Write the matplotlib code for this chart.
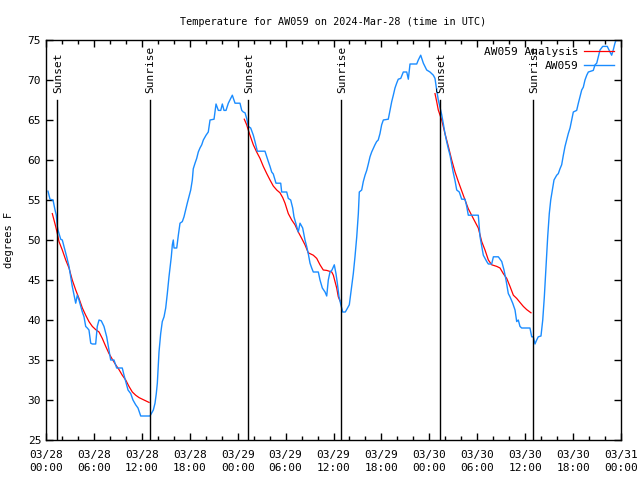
import matplotlib
matplotlib.use("Agg")
import matplotlib.pyplot as plt
from matplotlib.ticker import MultipleLocator

# hours since 2024-03-28 00:00 UTC
obs_hours = [0.25, 0.5, 0.88, 1.13, 1.29, 1.42, 1.5, 1.84, 2.04, 2.25, 2.59, 2.88, 3.09, 3.29, 3.51,
             3.72, 3.92, 4.13, 4.35, 4.55, 4.76, 4.97, 5.17, 5.38, 5.6, 5.8, 6.22, 6.42, 6.64, 6.92,
             7.26, 7.6, 7.89, 8.1, 8.51, 8.85, 9.55, 9.77, 9.98, 10.27, 10.61, 10.89, 11.23, 11.52,
             11.86, 13.02, 13.19, 13.44, 13.65, 13.81, 13.94, 14.06, 14.15, 14.36, 14.56, 14.78,
             14.99, 15.19, 15.4, 15.53, 15.69, 15.82, 15.94, 16.03, 16.37, 16.57, 16.78, 17.07,
             17.28, 17.69, 18.12, 18.32, 18.44, 18.66, 18.87, 19.07, 19.28, 19.5, 19.7, 20.04,
             20.32, 20.54, 21.04, 21.29, 21.58, 21.88, 22.08, 22.29, 22.54, 22.83, 23.13, 23.33,
             23.67, 24.29, 24.51, 24.71, 24.92, 25.13, 25.33, 25.63, 25.96, 26.17, 26.46, 27.42,
             27.64, 27.84, 28.05, 28.26, 28.46, 28.8, 29.39, 29.51, 30.14, 30.34, 30.64, 30.89,
             31.05, 31.39, 31.59, 31.81, 32.14, 32.43, 32.64, 32.84, 33.06, 33.27, 33.47, 34.1,
             34.31, 34.6, 34.94, 35.15, 35.35, 35.56, 35.81, 36.1, 36.31, 36.48, 36.69, 36.9,
             37.15, 37.48, 37.98, 38.19, 38.48, 38.69, 38.91, 39.11, 39.23, 39.53, 39.73, 39.95,
             40.16, 40.36, 40.57, 40.78, 41.19, 41.4, 41.6, 41.82, 42.03, 42.24, 42.86, 43.08,
             43.29, 43.49, 43.7, 43.91, 44.11, 44.42, 44.74, 45.17, 45.37, 45.58, 46.42, 46.62,
             46.92, 47.25, 47.67, 48.08, 48.5, 48.71, 48.92, 49.12, 49.33, 49.54, 49.74, 49.96,
             50.17, 50.38, 50.59, 50.8, 51.0, 51.22, 51.43, 51.75, 52.05, 52.47, 52.68, 52.88,
             54.13, 54.35, 54.56, 54.76, 55.19, 55.39, 55.81, 56.02, 56.64, 57.07, 57.35, 57.6,
             57.89, 58.1, 58.44, 58.73, 58.94, 59.14, 59.35, 59.56, 60.6, 60.82, 61.02, 61.23,
             61.44, 61.64, 61.98, 62.2, 62.4, 62.61, 62.82, 63.02, 63.2, 63.4, 63.61, 63.95,
             64.15, 64.36, 64.57, 64.78, 64.99, 65.2, 65.4, 65.62, 65.83, 66.03, 66.45, 66.66,
             66.87, 67.08, 67.28, 67.49, 67.71, 67.91, 68.53, 68.75, 68.96, 69.16, 69.37, 69.71,
             70.28, 70.62, 70.83, 71.03, 71.24, 71.5]
obs_temp = [56.1, 55.1, 55.0, 53.75, 53.1, 51.7, 51.25, 50.1, 50.0, 49.2, 47.9, 46.7, 45.4, 44.2, 43.1,
            42.1, 43.1, 42.5, 41.7, 41.0, 40.4, 39.2, 39.0, 38.75, 37.1, 37.0, 37.0, 39.2, 40.0, 39.9,
            39.2, 37.9, 36.25, 35.0, 35.0, 34.0, 34.0, 33.1, 32.3, 31.25, 30.8, 30.0, 29.4, 29.0,
            28.0, 28.0, 28.3, 28.75, 29.6, 30.8, 32.1, 34.2, 36.0, 38.3, 39.8, 40.4,
            41.5, 43.3, 45.4, 46.5, 47.9, 49.4, 50.0, 49.0, 49.0, 50.6, 52.1, 52.3,
            52.9, 54.6, 56.25, 57.5, 58.9, 59.6, 60.2, 61.0, 61.5, 61.9, 62.5, 63.1,
            63.5, 65.0, 65.1, 67.0, 66.2, 66.2, 67.0, 66.2, 66.2, 67.1, 67.7, 68.1,
            67.1, 67.1, 66.2, 66.0, 65.9, 65.2, 64.2, 64.0, 63.1, 62.3, 61.1, 61.1,
            60.4, 59.8, 59.2, 58.5, 58.25, 57.1, 57.1, 56.0, 56.0, 55.2, 55.0, 54.0,
            52.9, 51.7, 51.0, 52.1, 51.5, 50.0, 49.2, 48.3, 47.1, 46.5, 46.0, 46.0,
            45.0, 44.0, 43.5, 43.0, 45.0, 46.0, 46.25, 46.9, 45.8, 44.6, 42.9, 42.0,
            41.0, 41.0, 41.9, 43.5, 45.8, 47.9, 50.4, 53.3, 56.0, 56.25, 57.3, 58.1,
            58.7, 59.5, 60.4, 61.0, 61.9, 62.3, 62.5, 63.3, 64.4, 65.0, 65.1, 66.25,
            67.3, 68.1, 69.0, 69.6, 70.1, 70.2, 71.0, 71.0, 70.1, 72.0, 72.0, 72.5,
            73.1, 72.1, 71.25, 71.0, 70.6, 70.2, 68.75, 67.5, 66.6, 65.7, 64.6, 63.3,
            62.3, 61.4, 60.6, 59.5, 58.4, 57.4, 56.25, 56.0, 55.1, 55.1, 54.2, 53.1,
            53.1, 50.4, 49.2, 48.1, 47.3, 47.0, 47.0, 47.9, 47.9, 47.3, 46.25, 45.0,
            43.3, 42.9, 42.1, 41.25, 39.8, 40.0, 39.2, 39.0, 39.0, 37.9, 37.9, 37.0,
            37.5, 37.9, 38.0, 40.0, 42.9, 46.7, 50.4, 53.3, 55.0, 56.25, 57.5, 58.1,
            58.3, 58.9, 59.4, 60.6, 61.7, 62.5, 63.3, 64.0, 65.0, 66.0, 66.2, 67.1,
            67.9, 68.75, 69.1, 70.0, 70.6, 71.0, 71.2, 71.9, 72.1, 72.9, 73.75, 74.2,
            74.2, 73.5, 73.1, 73.75, 74.6, 75.3]

# analysis (overnight segments)
ana1_hours = [0.79, 1.0, 1.21, 1.42, 1.63, 2.04, 2.47, 2.88, 3.29, 3.72, 4.13, 4.55, 4.97, 5.38, 5.8,
              6.22, 6.64, 7.05, 7.48, 7.89, 8.3, 8.73, 9.14, 9.55, 9.98, 10.39, 10.81, 11.23, 11.65,
              12.06, 12.48, 12.9]
ana1_temp = [53.3, 52.5, 51.7, 50.8, 49.8, 48.75, 47.5, 46.5, 45.0, 43.75, 42.7, 41.5, 40.6, 39.8, 39.2,
             38.8, 38.5, 37.7, 36.7, 35.8, 35.1, 34.4, 33.8, 33.1, 32.5, 31.7, 31.0, 30.6, 30.3,
             30.1, 29.9, 29.7]
ana2_hours = [24.83, 25.13, 25.33, 25.54, 25.96, 26.38, 26.8, 27.21, 27.64, 28.05, 28.46, 28.89, 29.3,
              29.64, 29.93, 30.34, 30.77, 31.18, 31.59, 32.02, 32.43, 32.84, 33.47, 33.9, 34.31,
              34.72, 35.15, 35.78, 35.98, 36.19, 36.4, 36.6, 36.81]
ana2_temp = [65.1, 64.4, 63.75, 63.1, 61.9, 61.0, 60.2, 59.2, 58.3, 57.5, 56.75, 56.25, 55.9,
             55.3, 54.6, 53.3, 52.5, 51.9, 51.0, 50.2, 49.4, 48.4, 48.1, 47.7, 46.9,
             46.25, 46.2, 46.0, 45.6, 44.8, 44.0, 42.9, 42.4]
ana3_hours = [48.71, 48.92, 49.12, 49.55, 49.96, 50.38, 50.8, 51.22, 51.63, 52.25, 52.88, 53.5, 54.13,
              54.56, 54.97, 55.39, 55.81, 56.44, 56.85, 57.26, 57.69, 58.1, 58.52, 58.94, 59.35,
              59.77, 60.19, 60.73]
ana3_temp = [68.3, 67.3, 66.25, 65.0, 63.3, 61.7, 60.0, 58.5, 57.3, 55.6, 53.9, 52.7, 51.5,
             49.8, 48.75, 47.5, 46.9, 46.7, 46.5, 45.8, 45.2, 44.2, 43.1, 42.7, 42.2,
             41.7, 41.3, 40.9]

sun_hours = [1.38, 13.0, 25.3, 36.94, 49.34, 60.98]
sun_labels = ['Sunset', 'Sunrise', 'Sunset', 'Sunrise', 'Sunset', 'Sunrise']

tick_hours = [0, 6, 12, 18, 24, 30, 36, 42, 48, 54, 60, 66, 72]
tick_labels = ['03/28\n00:00', '03/28\n06:00', '03/28\n12:00', '03/28\n18:00',
               '03/29\n00:00', '03/29\n06:00', '03/29\n12:00', '03/29\n18:00',
               '03/30\n00:00', '03/30\n06:00', '03/30\n12:00', '03/30\n18:00',
               '03/31\n00:00']

plt.rcParams['font.family'] = ['DejaVu Sans Mono']
plt.rcParams['font.size'] = 8

fig = plt.figure(figsize=(6.4, 4.8), dpi=100)
ax = fig.add_axes([46 / 640, 40 / 480, 575 / 640, 400 / 480])

ana_color = '#ff0000'
obs_color = '#1a8cff'

ax.plot(ana1_hours, ana1_temp, color=ana_color, lw=0.9, label='AW059 Analysis')
ax.plot(ana2_hours, ana2_temp, color=ana_color, lw=0.9)
ax.plot(ana3_hours, ana3_temp, color=ana_color, lw=0.9)
ax.plot(obs_hours, obs_temp, color=obs_color, lw=1.0, label='AW059')

for h, lab in zip(sun_hours, sun_labels):
    ax.plot([h, h], [25, 67.5], color='black', lw=1.0)
    ax.text(h + 0.1, 68.4, lab, rotation=90, ha='center', va='bottom', fontsize=8)

ax.set_xlim(0, 72)
ax.set_ylim(25, 75)
ax.set_xticks(tick_hours)
ax.set_xticklabels(tick_labels, linespacing=1.35)
ax.xaxis.set_minor_locator(MultipleLocator(2))
ax.yaxis.set_major_locator(MultipleLocator(5))
ax.tick_params(which='both', direction='in', top=True, right=True, width=1)
ax.tick_params(which='major', length=5, labelsize=8)
ax.tick_params(axis='x', which='major', pad=7)
ax.tick_params(which='minor', length=3)
for sp in ax.spines.values():
    sp.set_linewidth(1.0)

ax.set_ylabel('degrees F', fontsize=7.5, labelpad=10)
ax.set_title('Temperature for AW059 on 2024-Mar-28 (time in UTC)', fontsize=7.3, pad=11)

ax.legend(loc='upper right', frameon=False, markerfirst=False, fontsize=8,
          handlelength=2.7, handletextpad=0.5, borderaxespad=0.6, labelspacing=0.4,
          borderpad=0.0)

fig.savefig('out.png', dpi=100)
